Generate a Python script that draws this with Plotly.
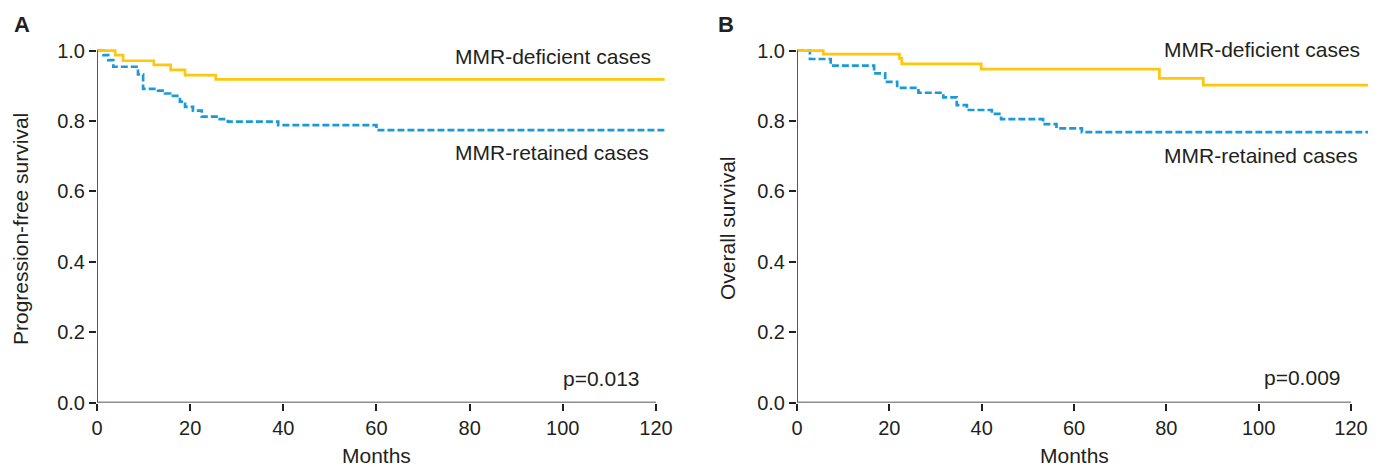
import plotly.graph_objects as go

# ---- data (months, survival probability) ----
pfs_def_months = [0, 3.9, 5.6, 12.2, 15.8, 18.9, 25.5, 121.9]
pfs_def_surv = [1.0, 0.987, 0.971, 0.959, 0.945, 0.930, 0.918, 0.918]

pfs_ret_months = [0, 1.4, 2.4, 3.5, 8.8, 9.9, 13.1, 14.6, 15.7, 17.8, 18.9, 20.6, 22.5, 26.0, 28.1, 38.9, 60.0, 121.9]
pfs_ret_surv = [1.0, 0.987, 0.973, 0.954, 0.932, 0.891, 0.886, 0.878, 0.871, 0.855, 0.840, 0.829, 0.812, 0.805, 0.798, 0.788, 0.774, 0.774]

os_def_months = [0, 5.7, 22.2, 22.7, 39.9, 78.5, 88.0, 123.7]
os_def_surv = [1.0, 0.990, 0.978, 0.962, 0.947, 0.921, 0.902, 0.902]

os_ret_months = [0, 2.8, 7.3, 16.7, 19.1, 21.7, 26.3, 31.7, 34.6, 36.8, 42.2, 44.2, 53.3, 56.2, 61.7, 123.7]
os_ret_surv = [1.0, 0.976, 0.957, 0.935, 0.911, 0.894, 0.880, 0.867, 0.845, 0.831, 0.820, 0.805, 0.791, 0.779, 0.768, 0.768]

x_ticks = [0, 20, 40, 60, 80, 100, 120]
y_ticks = [0.0, 0.2, 0.4, 0.6, 0.8, 1.0]

panel_letters = ["A", "B"]
y_titles = ["Progression-free survival", "Overall survival"]
x_title = "Months"
group_labels = ["MMR-deficient cases", "MMR-retained cases"]
p_values = ["p=0.013", "p=0.009"]

# ---- style ----
OFF = 8  # page body margin in the browser
W, H = 1382 - OFF, 466 - OFF
YELLOW = "#FFC60B"
BLUE = "#1B9AD6"
INK = "#231F20"
FONT = "Liberation Sans, Arial, sans-serif"


def px(x):
    return (x - OFF) / W


def py(y):
    return 1 - (y - OFF) / H


fig = go.Figure()

panels = [
    (pfs_def_months, pfs_def_surv, pfs_ret_months, pfs_ret_surv, "x", "y"),
    (os_def_months, os_def_surv, os_ret_months, os_ret_surv, "x2", "y2"),
]
for dm, ds, rm, rs, xa, ya in panels:
    fig.add_trace(go.Scatter(x=rm, y=rs, mode="lines", line_shape="hv",
                             line=dict(color=BLUE, width=2.7, dash="7px,3px"),
                             xaxis=xa, yaxis=ya, showlegend=False, hoverinfo="skip"))
    fig.add_trace(go.Scatter(x=dm, y=ds, mode="lines", line_shape="hv",
                             line=dict(color=YELLOW, width=2.7),
                             xaxis=xa, yaxis=ya, showlegend=False, hoverinfo="skip"))

y_dom = [py(402.5), py(43.5)]
x_dom_left = [px(97), px(664.8)]
x_dom_right = [px(797), px(1368.1)]

axis_common = dict(showgrid=False, zeroline=False, showline=False, automargin=False,
                   ticks="outside", ticklen=7, tickwidth=1.5, tickcolor=INK,
                   tickfont=dict(family=FONT, size=20, color=INK))

fig.update_layout(
    template="none",
    width=W, height=H,
    margin=dict(l=0, r=0, t=0, b=0, pad=0),
    paper_bgcolor="white", plot_bgcolor="white",
    xaxis=dict(domain=x_dom_left, range=[0, 121.9], tickvals=x_ticks, anchor="y", **axis_common),
    yaxis=dict(domain=y_dom, range=[0, 1.02], tickvals=y_ticks, tickformat=".1f", anchor="x", **axis_common),
    xaxis2=dict(domain=x_dom_right, range=[0, 123.7], tickvals=x_ticks, anchor="y2", **axis_common),
    yaxis2=dict(domain=y_dom, range=[0, 1.02], tickvals=y_ticks, tickformat=".1f", anchor="x2", **axis_common),
)

# axis lines ending at the last tick
shapes = []
for xr, yr in [("x", "y"), ("x2", "y2")]:
    shapes.append(dict(type="line", xref=xr, yref=yr, x0=0, x1=120, y0=0, y1=0,
                       line=dict(color=INK, width=1.5), layer="above"))
    shapes.append(dict(type="line", xref=xr, yref=yr, x0=0, x1=0, y0=0, y1=1.0,
                       line=dict(color=INK, width=1.5), layer="above"))
fig.update_layout(shapes=shapes)

ann = []


def add_text(text, x, y, xanchor="center", size=21, bold=False, angle=0):
    ann.append(dict(text=f"<b>{text}</b>" if bold else text, x=px(x), y=py(y),
                    xref="paper", yref="paper", xanchor=xanchor, yanchor="middle",
                    showarrow=False, textangle=angle,
                    font=dict(family=FONT, size=size, color=INK)))


add_text(panel_letters[0], 22, 24.7, size=22, bold=True)
add_text(panel_letters[1], 725.5, 24.7, size=22, bold=True)
add_text(y_titles[0], 21, 229, angle=-90)
add_text(y_titles[1], 727, 228, angle=-90)
add_text(x_title, 376, 455)
add_text(x_title, 1074, 455)
add_text(group_labels[0], 653, 56, xanchor="right")
add_text(group_labels[1], 651, 152.5, xanchor="right")
add_text(group_labels[0], 1362, 49, xanchor="right")
add_text(group_labels[1], 1360, 155, xanchor="right")
add_text(p_values[0], 642, 378, xanchor="right")
add_text(p_values[1], 1343, 377, xanchor="right")
fig.update_layout(annotations=ann)

fig.write_html("out.html")
